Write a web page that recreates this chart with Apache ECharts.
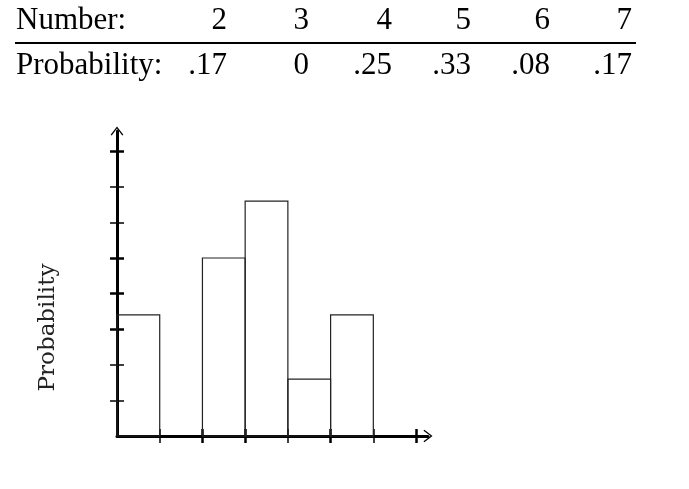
<!DOCTYPE html>
<html><head><meta charset="utf-8">
<script src="https://cdn.jsdelivr.net/npm/echarts@6/dist/echarts.min.js"></script>
<style>html,body{margin:0;padding:0;background:#fff}#c{width:689px;height:489px}</style>
</head><body><div id="c"></div>
<script>
// ---- data ----
const numbers = [2, 3, 4, 5, 6, 7];
const probabilities = [0.17, 0, 0.25, 0.33, 0.08, 0.17];
const rowHeaders = ['Number:', 'Probability:'];
const yAxisName = 'Probability';
const xTicksBold = [3.5, 4.5, 6.5, 8.5];
const xTicksThin = [2.5, 5.5, 7.5];
const yTicksBold = [0.15, 0.20, 0.25, 0.40];
const yTicksThin = [0.05, 0.10, 0.30, 0.35];

// ---- layout ----
const colRight = [227, 309, 392, 471, 550, 632];
const tableFont = '31px "Liberation Serif", "Times New Roman", serif';
const fmtProb = v => v === 0 ? '0' : v.toFixed(2).replace(/^0/, '');
const chevron = 'path://M0,9 L7,0 L14,9 L12.8,9.9 L7,2.2 L1.2,9.9 Z';

const xBase = { type: 'value', min: 1.5, max: 8.78, position: 'bottom',
  splitLine: { show: false }, axisLabel: { show: false } };
const yBase = { type: 'value', min: 0, max: 0.4284, position: 'left',
  splitLine: { show: false }, axisLabel: { show: false } };

function tickAxis(base, vals, inside, width) {
  return Object.assign({}, base, {
    axisLine: { show: false, onZero: false },
    axisTick: { show: true, customValues: vals, inside: inside, length: 7,
      lineStyle: { color: '#000', width: width } }
  });
}

const graphics = [];
rowHeaders.forEach((h, r) => {
  graphics.push({ type: 'text', x: 16, y: r === 0 ? 21 : 66,
    style: { text: h, font: tableFont, fill: '#000', align: 'left', verticalAlign: 'middle' } });
});
numbers.forEach((n, i) => {
  graphics.push({ type: 'text', x: colRight[i], y: 21,
    style: { text: String(n), font: tableFont, fill: '#000', align: 'right', verticalAlign: 'middle' } });
  graphics.push({ type: 'text', x: colRight[i], y: 66,
    style: { text: fmtProb(probabilities[i]), font: tableFont, fill: '#000', align: 'right', verticalAlign: 'middle' } });
});
graphics.push({ type: 'line', shape: { x1: 15, y1: 43, x2: 636, y2: 43 },
  style: { stroke: '#000', lineWidth: 2 } });

const option = {
  animation: false,
  backgroundColor: '#fff',
  grid: { left: 117, right: 261, top: 131, bottom: 53, containLabel: false, outerBoundsMode: 'none' },
  xAxis: [
    Object.assign({}, xBase, {
      axisLine: { show: true, onZero: false, symbol: ['none', chevron], symbolSize: [14, 9],
        lineStyle: { color: '#000', width: 3 } },
      axisTick: { show: true, customValues: xTicksBold, inside: false, length: 7,
        lineStyle: { color: '#000', width: 2.5 } }
    }),
    tickAxis(xBase, xTicksBold, true, 2.5),
    tickAxis(xBase, xTicksThin, true, 1.5),
    tickAxis(xBase, xTicksThin, false, 1.5)
  ],
  yAxis: [
    Object.assign({}, yBase, {
      name: yAxisName, nameLocation: 'middle', nameRotate: 90, nameGap: 57,
      nameTextStyle: { fontFamily: '"DejaVu Serif", serif', fontSize: 23, color: '#222',
        padding: [0, 88, 0, 0] },
      axisLine: { show: true, onZero: false, symbol: ['none', chevron], symbolSize: [14, 9],
        lineStyle: { color: '#000', width: 3 } },
      axisTick: { show: true, customValues: yTicksBold, inside: false, length: 7,
        lineStyle: { color: '#000', width: 2.5 } }
    }),
    tickAxis(yBase, yTicksBold, true, 2.5),
    tickAxis(yBase, yTicksThin, true, 1.5),
    tickAxis(yBase, yTicksThin, false, 1.5)
  ],
  series: [{
    type: 'custom',
    xAxisIndex: 0, yAxisIndex: 0,
    data: numbers.map((n, i) => [n, probabilities[i]]),
    renderItem: function (params, api) {
      const n = api.value(0), p = api.value(1);
      if (!p) return null;
      const a = api.coord([n - 0.5, p]);
      const b = api.coord([n + 0.5, 0]);
      return { type: 'rect',
        shape: { x: a[0], y: a[1], width: b[0] - a[0], height: b[1] - a[1] },
        style: { fill: 'transparent', stroke: '#222', lineWidth: 1.2 } };
    },
    z: 1
  }],
  graphic: graphics
};
const chart = echarts.init(document.getElementById('c'), null, { renderer: 'canvas' });
chart.setOption(option);
</script></body></html>
